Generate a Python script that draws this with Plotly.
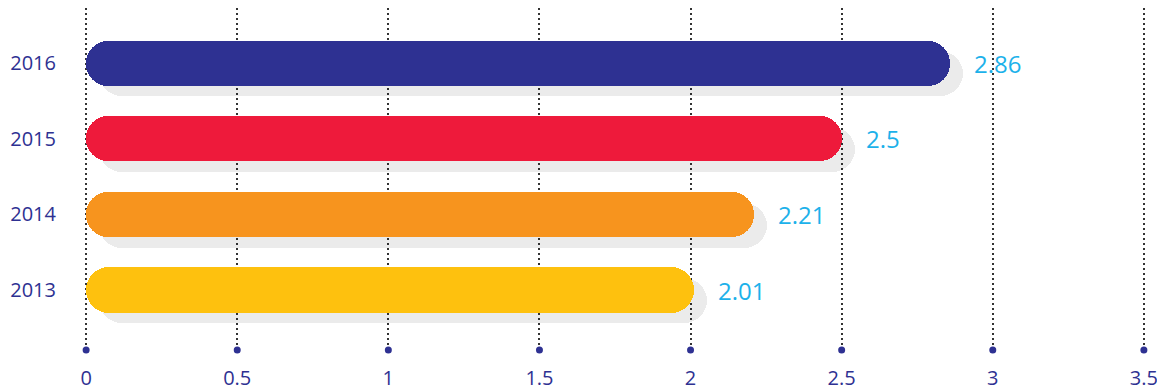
import plotly.graph_objects as go

years = ["2013", "2014", "2015", "2016"]
values = [2.01, 2.21, 2.5, 2.86]
bar_colors = ["#FEC10E", "#F7941E", "#EE1A3B", "#2E3192"]
tick_vals = [0, 0.5, 1, 1.5, 2, 2.5, 3, 3.5]
tick_text = ["0", "0.5", "1", "1.5", "2", "2.5", "3", "3.5"]

NAVY = "#2E3192"
CYAN = "#1CB1EA"
FONT = "Open Sans"

shadow_dx = 0.043   # x offset of the shadow (data units ~ 13px)
shadow_dy = 0.145   # y offset of the shadow (category units ~ 11px)
y_lo, y_hi = -0.793, 3.727
BAR_W = 0.595

fig = go.Figure()

# shadow bars (explicit base -> both ends rounded)
fig.add_trace(go.Bar(
    y=years, x=values, base=[shadow_dx] * len(values), orientation="h",
    marker=dict(color="rgba(0,0,0,0.08)", cornerradius="50%", line=dict(width=0)),
    width=BAR_W, hoverinfo="skip", showlegend=False, yaxis="y", xaxis="x",
))

# main bars (overlay axes)
fig.add_trace(go.Bar(
    y=years, x=values, base=[0] * len(values), orientation="h",
    marker=dict(color=bar_colors, cornerradius="50%", line=dict(width=0)),
    width=BAR_W, showlegend=False, yaxis="y2", xaxis="x",
))

# dots at foot of gridlines
fig.add_trace(go.Scatter(
    x=tick_vals, y=[0] * len(tick_vals), mode="markers",
    marker=dict(color=NAVY, size=7), cliponaxis=False,
    hoverinfo="skip", showlegend=False, yaxis="y3", xaxis="x",
))

for i, v in enumerate(values):
    fig.add_annotation(
        x=v, y=i, xref="x", yref="y2", text=str(v), showarrow=False,
        xanchor="left", xshift=22, font=dict(family=FONT, size=24, color=CYAN),
    )

fig.update_layout(
    width=1157, height=383,
    margin=dict(l=76, r=19, t=0, b=41, autoexpand=False),
    paper_bgcolor="white", plot_bgcolor="white",
    barmode="overlay", bargap=0,
    xaxis=dict(
        range=[-0.007, 3.507], tickvals=tick_vals, ticktext=tick_text,
        showgrid=True, gridcolor="#333333", griddash="2px,3px", gridwidth=1.5,
        zeroline=False, showline=False, ticks="", automargin=False,
        tickfont=dict(family=FONT, size=20, color=NAVY),
        ticklabelstandoff=14,
    ),
    yaxis=dict(
        type="category", categoryorder="array", categoryarray=years,
        range=[y_lo + shadow_dy, y_hi + shadow_dy], automargin=False,
        showticklabels=False, showgrid=False, zeroline=False, ticks="",
    ),
    yaxis2=dict(
        type="category", categoryorder="array", categoryarray=years,
        range=[y_lo, y_hi], overlaying="y", automargin=False,
        showgrid=False, zeroline=False, ticks="",
        tickfont=dict(family=FONT, size=20, color=NAVY),
        ticklabelstandoff=27,
    ),
    yaxis3=dict(
        range=[0, 1], overlaying="y", visible=False,
    ),
)

fig.write_html("out.html")
